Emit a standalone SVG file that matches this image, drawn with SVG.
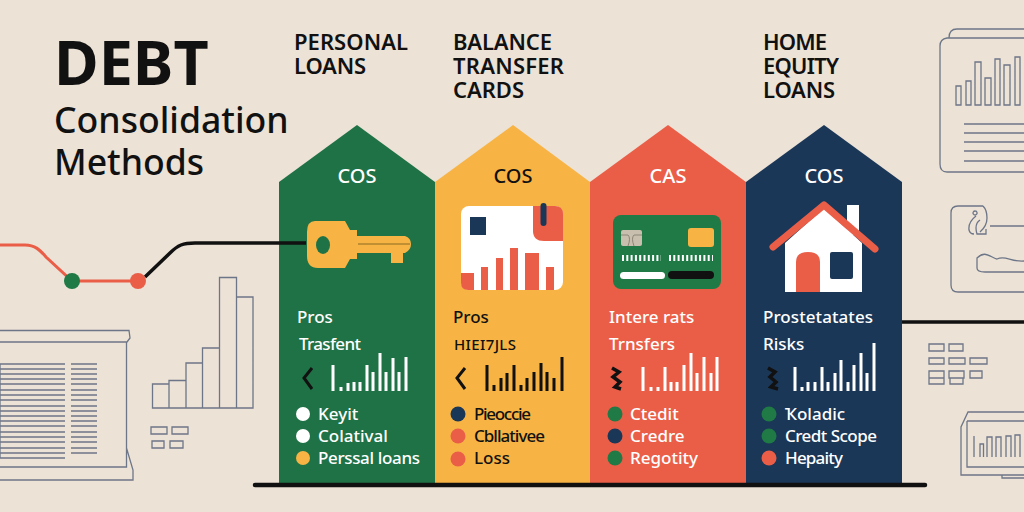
<svg xmlns="http://www.w3.org/2000/svg" width="1024" height="512" viewBox="0 0 1024 512">
<style>
text{font-family:"Noto Sans","Open Sans","Liberation Sans",sans-serif}
.t{font-size:17px;font-weight:500}.w{fill:#fff}.k{fill:#111}
.h{font-size:22px;font-weight:600;fill:#111}
.c{font-size:20px;font-weight:500;text-anchor:middle}
.o{fill:none;stroke:#6d7688;stroke-width:1.3}
.bw{stroke:#fff;stroke-width:3;fill:none}.bk{stroke:#111;stroke-width:3;fill:none}
</style>
<rect width="1024" height="512" fill="#ece2d6"/>
<g id="title"><text x="54" y="85" font-size="61" font-weight="700" fill="#111">DEBT</text>
<text x="54" y="133" font-size="35.6" font-weight="500" fill="#111">Consolidation</text>
<text x="54" y="175" font-size="35.6" font-weight="500" fill="#111">Methods</text></g>
<g id="col-personal"><path d="M279 182L357 125L435 182V483H279Z" fill="#1f7246"/>
<text class="h" x="294" y="50" textLength="114">PERSONAL</text><text class="h" x="294" y="74" textLength="72">LOANS</text>
<text class="c w" x="357" y="183">COS</text>
<path d="M315 221H345L350 230H357V236H405Q411 238 411 244Q411 250 405 253H403V263H391V253H357V259H350L345 268H318Q307 268 307 256V232Q307 221 315 221Z" fill="#f7b445"/>
<ellipse cx="323" cy="245" rx="7" ry="9" fill="#1f7246"/>
<path d="M358 244H410" stroke="#8a6a24" stroke-width="1.2"/>
<text class="t w" x="297" y="323">Pros</text><text class="t w" x="299" y="350" textLength="62">Trasfent</text>
<path d="M312 368L304 378L312 389" class="bk"/>
<path d="M333 391V365M341 391V387M348 391V383M354 391V382M360 391V382M367 391V365M373 391V372M380 391V353M386 391V372M393 391V358M399 391V372M406 391V357" class="bw"/>
<circle cx="303" cy="414" r="7" fill="#fff"/><circle cx="303" cy="436" r="7" fill="#fff"/><circle cx="303" cy="458" r="7" fill="#f7b445"/>
<text class="t w" x="318" y="420">Keyit</text><text class="t w" x="318" y="442">Colatival</text><text class="t w" x="318" y="464" textLength="102">Perssal loans</text></g>
<g id="col-balance"><path d="M435 182L513 125L590 182V483H435Z" fill="#f7b445"/>
<text class="h" x="453" y="50" textLength="99">BALANCE</text><text class="h" x="453" y="74" textLength="111">TRANSFER</text><text class="h" x="453" y="98" textLength="71">CARDS</text>
<text class="c k" x="513" y="183">COS</text>
<rect x="461" y="206" width="102" height="84" rx="8" fill="#fff"/>
<path d="M533 206H555Q563 206 563 214V241H544Q533 241 533 231Z" fill="#ea5e48"/>
<rect x="470" y="217" width="16" height="18" fill="#1b3757"/><path d="M543.500 206V223" stroke="#1b3757" stroke-width="6" stroke-linecap="round"/>
<path d="M461 273H474V290H468Q461 290 461 283ZM481 267H488V290H481ZM496 258H503V290H496ZM510 248H518V290H510ZM525 253H539V290H525ZM546 267H554V290H546Z" fill="#ea5e48"/>
<text class="t k" x="453" y="323">Pros</text><text class="k" x="454" y="350" style="font-size:15px;font-weight:500" textLength="62">HIEI7JLS</text>
<path d="M465 368L457 378L465 389" class="bk"/>
<path d="M487 391V365M494 391V385M501 391V378M507 391V373M514 391V365M521 391V385M527 391V378M534 391V372M541 391V363M547 391V372M554 391V378M562 391V357" class="bk"/>
<circle cx="458" cy="414" r="7.5" fill="#1b3757"/><circle cx="458" cy="436" r="7.5" fill="#ea5e48"/><circle cx="458" cy="459" r="7.5" fill="#ea5e48"/>
<text class="t k" x="474" y="420" textLength="57">Pieoccie</text><text class="t k" x="474" y="442" textLength="71">Cbllativee</text><text class="t k" x="474" y="464">Loss</text></g>
<g id="col-cas"><path d="M590 182L668 125L746 182V483H590Z" fill="#ea5e48"/>
<text class="c w" x="668" y="183">CAS</text>
<rect x="613" y="215" width="108" height="74" rx="8" fill="#1f7a45"/>
<rect x="621" y="230" width="21" height="16" rx="2" fill="#c9bfae"/><path d="M621 235H628Q631 238 628 246M642 235H634Q631 238 634 246" fill="none" stroke="#8b8577"/><rect x="688" y="228" width="26" height="19" rx="3" fill="#f7b445"/>
<path d="M622 258H661M669 258H713" stroke="#fff" stroke-width="6" stroke-dasharray="2 2.300"/>
<rect x="620" y="272" width="45" height="7" rx="3.500" fill="#fff"/><rect x="668" y="271" width="46" height="8" rx="4" fill="#111"/>
<text class="t w" x="609" y="323">Intere rats</text><text class="t w" x="609" y="350">Trnsfers</text>
<path d="M612 368L619 372L613 377L620 382L615 387L621 389" class="bk" style="stroke-width:3.500px"/>
<path d="M643 391V367M651 391V387M658 391V387M665 391V367M671 391V382M677 391V382M684 391V365M691 391V353M697 391V373M704 391V357M711 391V373M717 391V357" class="bw"/>
<circle cx="615" cy="414" r="7.500" fill="#1f7a45"/><circle cx="615" cy="436" r="7.500" fill="#1b3757"/><circle cx="615" cy="458" r="7.500" fill="#1f7a45"/>
<text class="t w" x="630" y="420">Ctedit</text><text class="t w" x="630" y="442">Credre</text><text class="t w" x="630" y="464">Regotity</text></g>
<g id="col-home"><path d="M746 182L824 125L902 182V483H746Z" fill="#1b3757"/>
<text class="h" x="763" y="50" textLength="64">HOME</text><text class="h" x="763" y="74" textLength="76">EQUITY</text><text class="h" x="763" y="98" textLength="72">LOANS</text>
<text class="c w" x="824" y="183">COS</text>
<rect x="847" y="205" width="12" height="30" fill="#fff"/>
<path d="M785 243L824 208L862 243V292H785Z" fill="#fff"/>
<path d="M773 247L824 205L875 249" fill="none" stroke="#ea5e48" stroke-width="7" stroke-linecap="round" stroke-linejoin="round"/>
<path d="M796 292V262Q796 252 808 252Q820 252 820 262V292Z" fill="#ea5e48"/><rect x="830" y="252" width="23" height="27" rx="2" fill="#1b3757"/>
<text class="t w" x="763" y="323" textLength="110">Prostetatates</text><text class="t w" x="763" y="350">Risks</text>
<path d="M768 368L775 372L770 377L776 382L771 387L778 389" class="bk" style="stroke-width:3.500px"/>
<path d="M795 391V367M802 391V387M808 391V382M815 391V382M822 391V367M828 391V382M835 391V373M841 391V360M848 391V382M854 391V365M861 391V353M867 391V373M874 391V343" class="bw"/>
<circle cx="769" cy="414" r="7.500" fill="#1f7a45"/><circle cx="769" cy="436" r="7.500" fill="#1f7a45"/><circle cx="769" cy="458" r="7.500" fill="#ea5e48"/>
<text class="t w" x="785" y="420">Ҡoladic</text><text class="t w" x="785" y="442" textLength="92">Credt Scope</text><text class="t w" x="785" y="464" textLength="58">Hepaity</text></g>
<g id="connectors">
<path d="M0 245H25C35 245 40 250 46 257L72 281H138" fill="none" stroke="#ea5e48" stroke-width="3"/>
<path d="M145 277L170 253C178 245 183 243 195 243H306" fill="none" stroke="#111" stroke-width="3.500"/>
<path d="M902 322H1024" stroke="#111" stroke-width="3.500" fill="none"/>
<circle cx="72" cy="281" r="8" fill="#1f7a45"/><circle cx="138" cy="281" r="8" fill="#ea5e48"/>
<path d="M255 485H925" stroke="#111" stroke-width="4.500" stroke-linecap="round" fill="none"/>
</g>
<g id="deco-left" class="o">
<path d="M0 330.500H129L130 338L127 342H0M126.500 342V467H0M126.500 448L133 470V480H0"/>
<path d="M0 364V458M0 364H65M0 369H65M0 374H65M0 379H65M0 384H65M0 390H65M0 395H65M0 400H65M0 406H65M0 411H65M0 416H65M0 421H65M0 426H65M0 432H65M0 437H65M0 442H65M0 448H65M0 453H65M0 458H65M71 364H97M71 369H97M71 374H97M71 379H97M71 384H97M71 390H97M71 395H97M71 400H97M71 406H97M71 411H97M71 416H97M71 421H97M71 426H97M71 432H97M71 437H97M71 442H97M71 448H97M71 453H97"/>
<path d="M152.500 408V384H169V408ZM169 408V380.500H186V408ZM186 408V363H202.500V408ZM202.500 408V348H219.500V408ZM219.500 408V277.500H236.500V408ZM236.500 408V297H253V408Z"/>
<path d="M151 427h16v7h-16zM172 427h16v7h-16zM152 441h12v7h-12zM170 441h13v7h-13z"/>
</g>
<g id="deco-right" class="o">
<path d="M949 38Q949 29 957 29H1024"/>
<path d="M1024 38H947Q940 39 940 46V164Q940 172 947 172H1024"/>
<path d="M956 105V86h5v19zM966 105V81h5v24zM975 105V62h6v43zM985 105V78h6v27zM995 105V59h5v46zM1004 105V65h6v40zM1015 105V57h5v48z"/>
<path d="M964 124H1024M964 133H1024M964 142H1024M964 151H1024M964 161H1024"/>
<path d="M983 206H958Q951 206 951 213V285Q951 292 958 292H1024"/>
<path d="M983 206Q987 210 987 218Q987 226 980 232M975 211a2 2 0 1 0 .1 0M976 216Q968 222 969 230Q970 234 974 234M980 220Q974 224 977 234H986V229M990 226H1024"/>
<path d="M1024 261C1010 262 1006 255 997 259C990 257 985 250 977 258V268Q977 272 985 272H1024"/>
<path d="M929 344h15v7h-15zM949 344h14v7h-14zM929 358h15v6h-15zM949 358h16v6h-16zM970 358h17v6h-17zM929 371h15v13h-15zM949 371h15v7h-15zM950 378h13v6h-13zM970 371h12v7h-12zM929 378h15"/>
<path d="M1024 412H968L961 427V475H1024M967 421H1024M967 421V467H1024M1002 475V478H1024"/>
<path d="M974 457V436M980 457V444h3.500v13M987 457V437h5v20M996 457V437h5v20M1006 457V436h5v21M1015 457V435h5v22"/>
</g>
</svg>
